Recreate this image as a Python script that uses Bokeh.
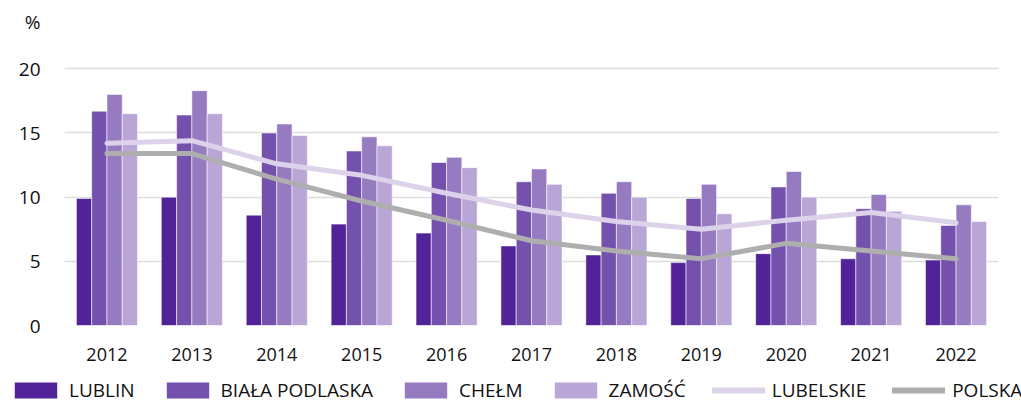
from bokeh.plotting import figure
from bokeh.layouts import column
from bokeh.models import (ColumnDataSource, FactorRange, FixedTicker, CustomJSTickFormatter,
                          Legend, LegendItem, Range1d)
from bokeh.transform import dodge
from bokeh.embed import file_html
from bokeh.resources import INLINE

years = ["2012", "2013", "2014", "2015", "2016", "2017", "2018", "2019", "2020", "2021", "2022"]
lublin = [9.9, 10.0, 8.6, 7.9, 7.2, 6.2, 5.5, 4.9, 5.6, 5.2, 5.1]
biala_podlaska = [16.7, 16.4, 15.0, 13.6, 12.7, 11.2, 10.3, 9.9, 10.8, 9.1, 7.8]
chelm = [18.0, 18.3, 15.7, 14.7, 13.1, 12.2, 11.2, 11.0, 12.0, 10.2, 9.4]
zamosc = [16.5, 16.5, 14.8, 14.0, 12.3, 11.0, 10.0, 8.7, 10.0, 8.9, 8.1]
lubelskie = [14.2, 14.4, 12.6, 11.7, 10.3, 9.0, 8.1, 7.5, 8.2, 8.8, 8.0]
polska = [13.4, 13.4, 11.4, 9.7, 8.2, 6.6, 5.8, 5.2, 6.4, 5.8, 5.2]
y_ticks = [0, 5, 10, 15, 20]
unit_label = "%"

bar_series = [("LUBLIN", "lublin", "#522398"),
              ("BIAŁA PODLASKA", "biala", "#7451AD"),
              ("CHEŁM", "chelm", "#967BC1"),
              ("ZAMOŚĆ", "zamosc", "#B9A6D6")]
line_series = [("LUBELSKIE", "lubelskie", "#DCD3EA"),
               ("POLSKA", "polska", "#AEAEAE")]

src = ColumnDataSource(dict(years=years, lublin=lublin, biala=biala_podlaska,
                            chelm=chelm, zamosc=zamosc,
                            lubelskie=lubelskie, polska=polska))

FONT = "Open Sans"

p = figure(x_range=FactorRange(*years), y_range=Range1d(0, 24.31),
           width=1021, height=376, output_backend="svg", toolbar_location=None,
           min_border_left=64, min_border_right=23, min_border_top=13, min_border_bottom=51)
p.outline_line_color = None
p.background_fill_color = "white"

bw = 0.18
offsets = [-0.27, -0.09, 0.09, 0.27]
for (name, col, color), off in zip(bar_series, offsets):
    p.vbar(x=dodge("years", off, range=p.x_range), top=col, width=bw, source=src,
           fill_color=color, line_color="white", line_width=0.8, line_alpha=0.7)

for name, col, color in line_series:
    p.line(x="years", y=col, source=src, line_color=color, line_width=5,
           line_cap="round", line_join="round")

# axes
p.xaxis.axis_line_color = None
p.xaxis.major_tick_line_color = None
p.xaxis.minor_tick_line_color = None
p.xaxis.major_tick_out = 0
p.xaxis.major_label_standoff = 22
p.xaxis.major_label_text_font = FONT
p.xaxis.major_label_text_font_size = "18px"
p.xaxis.major_label_text_color = "#111111"

p.yaxis.ticker = FixedTicker(ticks=y_ticks + [23.65])
p.yaxis.formatter = CustomJSTickFormatter(args=dict(u=unit_label),
                                          code="return tick > 21 ? u : tick.toString()")
p.yaxis.axis_line_color = None
p.yaxis.major_tick_line_color = None
p.yaxis.minor_tick_line_color = None
p.yaxis.major_tick_out = 0
p.yaxis.major_label_standoff = 24
p.yaxis.major_label_text_font = FONT
p.yaxis.major_label_text_font_size = "19px"
p.yaxis.major_label_text_color = "#111111"

p.xgrid.grid_line_color = None
p.ygrid.ticker = FixedTicker(ticks=y_ticks)
p.ygrid.grid_line_color = "#DDDDDD"
p.ygrid.grid_line_width = 1.3

# legend strip (separate figure so it can span the full width)
lg = figure(width=1021, height=28, output_backend="svg", toolbar_location=None,
            x_range=Range1d(0, 1), y_range=Range1d(0, 1),
            min_border_left=0, min_border_right=0, min_border_top=0, min_border_bottom=0)
lg.axis.visible = False
lg.grid.grid_line_color = None
lg.outline_line_color = None
for fig in (p, lg):
    if "frame_align" in fig.properties():
        fig.frame_align = False

items = []
for name, col, color in bar_series:
    # proxy renderer kept outside the visible range; only its legend swatch shows
    r = lg.vbar(x=[0.5], bottom=[-3], top=[-2], width=0.1, fill_color=color, line_color=None)
    items.append(LegendItem(label=name, renderers=[r]))
for name, col, color in line_series:
    r = lg.line(x=[0.4, 0.6], y=[-3, -3], line_color=color, line_width=6, line_cap="round")
    items.append(LegendItem(label=name, renderers=[r]))

legend = Legend(items=items, orientation="horizontal", location=(9, 1),
                glyph_width=53, glyph_height=20, label_standoff=7, spacing=26,
                padding=0, margin=0, border_line_color=None, background_fill_alpha=0,
                label_text_font=FONT, label_text_font_size="19px",
                label_text_color="#111111", label_height=20)
lg.add_layout(legend, "center")

layout = column(p, lg, spacing=0)
open("out.html", "w").write(file_html(layout, INLINE))
